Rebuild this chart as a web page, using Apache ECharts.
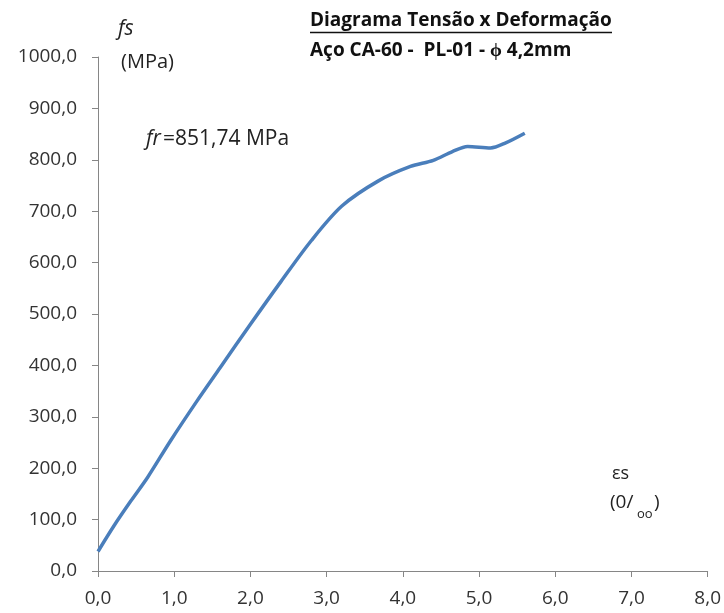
<!DOCTYPE html>
<html><head><meta charset="utf-8">
<script src="https://cdn.jsdelivr.net/npm/echarts@6/dist/echarts.min.js"></script>
<style>html,body{margin:0;padding:0;background:#fff}#c{width:724px;height:613px}</style>
</head><body><div id="c"></div>
<script>
var strain = [0.0,0.21,0.43,0.65,0.95,1.3,1.6,2.0,2.4,2.8,3.2,3.68,4.1,4.4,4.65,4.85,5.15,5.35,5.6];
var stress = [38,88,136,182,253,331,395,480,563,643,710,759,787,799,816,826,823,833,851.74];
var titleText = 'Diagrama Tensão x Deformação';
var subtitleText = 'Aço CA-60 -  PL-01 - ϕ 4,2mm';
var annotText = '=851,74 MPa';

var FONT = 'Open Sans';
var data = strain.map(function(x,i){return [x, stress[i]];});
var chart = echarts.init(document.getElementById('c'));
function fmt(v){return v.toFixed(1).replace('.', ',');}
var lab = {formatter:fmt,color:'#333',fontFamily:FONT,fontSize:19};
chart.setOption({
  animation:false,
  grid:{left:98,right:14,top:57,bottom:42},
  xAxis:{type:'value',min:0,max:8,interval:1,
    axisLine:{lineStyle:{color:'#868686',width:1}},
    axisTick:{show:true,length:6,lineStyle:{color:'#868686'}},
    splitLine:{show:false},
    axisLabel:Object.assign({margin:18},lab)},
  yAxis:{type:'value',min:0,max:1000,interval:100,
    axisLine:{show:true,lineStyle:{color:'#868686',width:1}},
    axisTick:{show:true,length:6,lineStyle:{color:'#868686'}},
    splitLine:{show:false},
    axisLabel:Object.assign({margin:21},lab)},
  series:[{type:'line',data:data,smooth:0.3,showSymbol:false,
    lineStyle:{color:'#4A7EBB',width:3.5}}],
  graphic:[
    {type:'text',left:310,top:11,style:{text:titleText,font:'bold 19px "'+FONT+'"',fill:'#111'}},
    {type:'line',shape:{x1:310,y1:32.5,x2:612,y2:32.5},style:{stroke:'#111',lineWidth:1.5}},
    {type:'text',left:310,top:41,style:{text:subtitleText,font:'bold 19px "'+FONT+'"',fill:'#111'}},
    {type:'text',left:118,top:19,style:{text:'fs',font:'italic 21px "'+FONT+'"',fill:'#222'}},
    {type:'text',left:121,top:52,style:{text:'(MPa)',font:'20px "'+FONT+'"',fill:'#222'}},
    {type:'text',left:146,top:129,style:{text:'fr',font:'italic 21px "'+FONT+'"',fill:'#222'}},
    {type:'text',left:163,top:129,style:{text:annotText,font:'21px "'+FONT+'"',fill:'#222'}},
    {type:'text',left:612,top:465,style:{text:'εs',font:'18px "'+FONT+'"',fill:'#222'}},
    {type:'text',left:610,top:493,style:{text:'(0/',font:'19px "'+FONT+'"',fill:'#222'}},
    {type:'text',left:637,top:508,style:{text:'oo',font:'13px "'+FONT+'"',fill:'#222'}},
    {type:'text',left:654,top:493,style:{text:')',font:'19px "'+FONT+'"',fill:'#222'}}
  ]
});
</script></body></html>
